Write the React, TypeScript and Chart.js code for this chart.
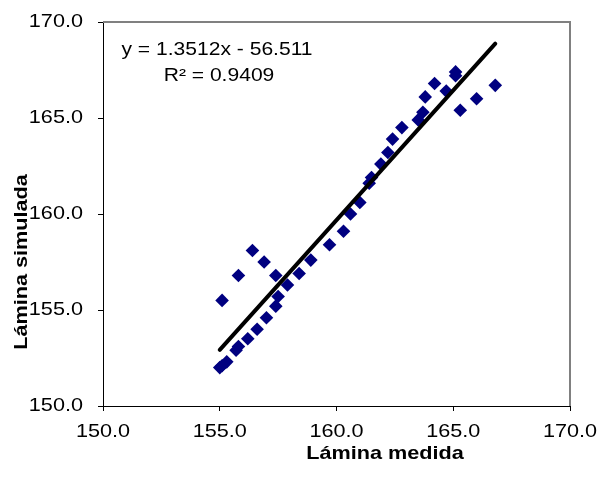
import React, { useEffect, useRef } from "react";
import { Chart, registerables } from "chart.js";

Chart.register(...registerables);

// Measured (x) vs simulated (y) values
const medida: number[] = [
  155.0, 155.1, 155.3, 155.7, 155.8, 156.2, 156.6, 157.0, 157.4, 157.5,
  157.9, 157.4, 158.4, 158.9, 156.9, 156.4, 155.8, 155.1, 159.7, 160.3,
  160.6, 161.0, 161.4, 161.5, 161.9, 162.2, 162.4, 162.8, 163.5, 163.7,
  163.8, 164.2, 164.7, 165.1, 165.1, 165.3, 166.0, 166.8,
];
const simulada: number[] = [
  152.0, 152.1, 152.3, 152.9, 153.1, 153.5, 154.0, 154.6, 155.2, 155.7,
  156.3, 156.8, 156.9, 157.6, 157.5, 158.1, 156.8, 155.5, 158.4, 159.1,
  160.0, 160.6, 161.6, 161.9, 162.6, 163.2, 163.9, 164.5, 164.9, 165.3,
  166.1, 166.8, 166.4, 167.2, 167.4, 165.4, 166.0, 166.7,
];

// Linear trendline
const SLOPE = 1.3512;
const INTERCEPT = -56.511;
const TREND_X: number[] = [155.0, 166.8];
const EQUATION = "y = 1.3512x - 56.511";
const R2_TEXT = "R\u00B2 = 0.9409";

const X_TITLE = "L\u00E1mina medida";
const Y_TITLE = "L\u00E1mina simulada";
const AXIS_MIN = 150;
const AXIS_MAX = 170;
const AXIS_STEP = 5;

const SX = 1.17;
const FONT = '"Liberation Sans", Arial, sans-serif';

const stretchPlugin = {
  id: "stretchText",
  beforeDraw(chart: any) {
    const ctx = chart.ctx as any;
    if (ctx.__orig) return;
    const orig = CanvasRenderingContext2D.prototype.fillText;
    ctx.__orig = orig;
    ctx.fillText = function (text: string, x: number, y: number, maxWidth?: number) {
      this.save();
      this.translate(x, y);
      this.scale(SX, 1);
      if (maxWidth !== undefined && maxWidth !== null) orig.call(this, text, 0, 0, maxWidth / SX);
      else orig.call(this, text, 0, 0);
      this.restore();
    };
  },
  afterDraw(chart: any) {
    const ctx = chart.ctx as any;
    const { left, right, top, bottom } = chart.chartArea;
    // plot area border (top and right)
    ctx.save();
    ctx.strokeStyle = "#808080";
    ctx.lineWidth = 2;
    ctx.beginPath();
    ctx.moveTo(left, top);
    ctx.lineTo(right, top);
    ctx.lineTo(right, bottom);
    ctx.stroke();
    ctx.restore();

    ctx.save();
    ctx.fillStyle = "#000";
    // equation
    ctx.font = `18px ${FONT}`;
    ctx.textAlign = "center";
    ctx.textBaseline = "alphabetic";
    ctx.fillText(EQUATION, 217, 54.5);
    ctx.fillText(R2_TEXT, 219, 80.5);
    // axis titles
    ctx.font = `bold 18.5px ${FONT}`;
    ctx.fillText(X_TITLE, 385, 459);
    ctx.translate(27, 262);
    ctx.rotate(-Math.PI / 2);
    ctx.fillText(Y_TITLE, 0, 0);
    ctx.restore();

    delete ctx.fillText;
    delete ctx.__orig;
  },
};

export default function App() {
  const ref = useRef<HTMLCanvasElement | null>(null);

  useEffect(() => {
    if (!ref.current) return;
    const points = medida.map((x, i) => ({ x, y: simulada[i] }));
    const trend = TREND_X.map((x) => ({ x, y: SLOPE * x + INTERCEPT }));

    const axis = (extraFit: (s: any) => void, padding: number) => ({
      type: "linear" as const,
      min: AXIS_MIN,
      max: AXIS_MAX,
      ticks: {
        stepSize: AXIS_STEP,
        color: "#000",
        padding,
        font: { family: FONT, size: 18.5 },
        callback: (v: any) => Number(v).toFixed(1),
      },
      grid: {
        display: true,
        drawOnChartArea: false,
        drawTicks: true,
        tickLength: 5,
        color: "#000",
        lineWidth: 1,
      },
      border: { display: true, color: "#000", width: 1 },
      afterFit: (s: any) => {
        extraFit(s);
        s.paddingLeft = 0;
        s.paddingRight = 0;
        s.paddingTop = 0;
        s.paddingBottom = 0;
      },
    });

    const chart = new Chart(ref.current, {
      type: "scatter",
      data: {
        datasets: [
          {
            type: "line",
            label: "trend",
            data: trend,
            borderColor: "#000",
            borderWidth: 4,
            borderCapStyle: "round",
            pointRadius: 0,
            showLine: true,
            fill: false,
            order: 0,
          } as any,
          {
            label: "data",
            data: points,
            pointStyle: "rectRot",
            pointRadius: 6.8,
            pointBackgroundColor: "#000080",
            pointBorderColor: "#000080",
            pointBorderWidth: 0,
            order: 1,
          },
        ],
      },
      options: {
        animation: false,
        responsive: true,
        maintainAspectRatio: false,
        layout: { padding: { top: 22, right: 27, left: 0, bottom: 0 } },
        plugins: {
          legend: { display: false },
          tooltip: { enabled: false },
        },
        scales: {
          x: axis((s: any) => { s.height = 74; }, 10) as any,
          y: axis((s: any) => { s.width = 103; }, 15) as any,
        },
      },
      plugins: [stretchPlugin],
    });
    return () => chart.destroy();
  }, []);

  return (
    <div style={{ position: "fixed", left: 0, top: 0, width: 597, height: 480, background: "#fff" }}>
      <canvas ref={ref} />
    </div>
  );
}
